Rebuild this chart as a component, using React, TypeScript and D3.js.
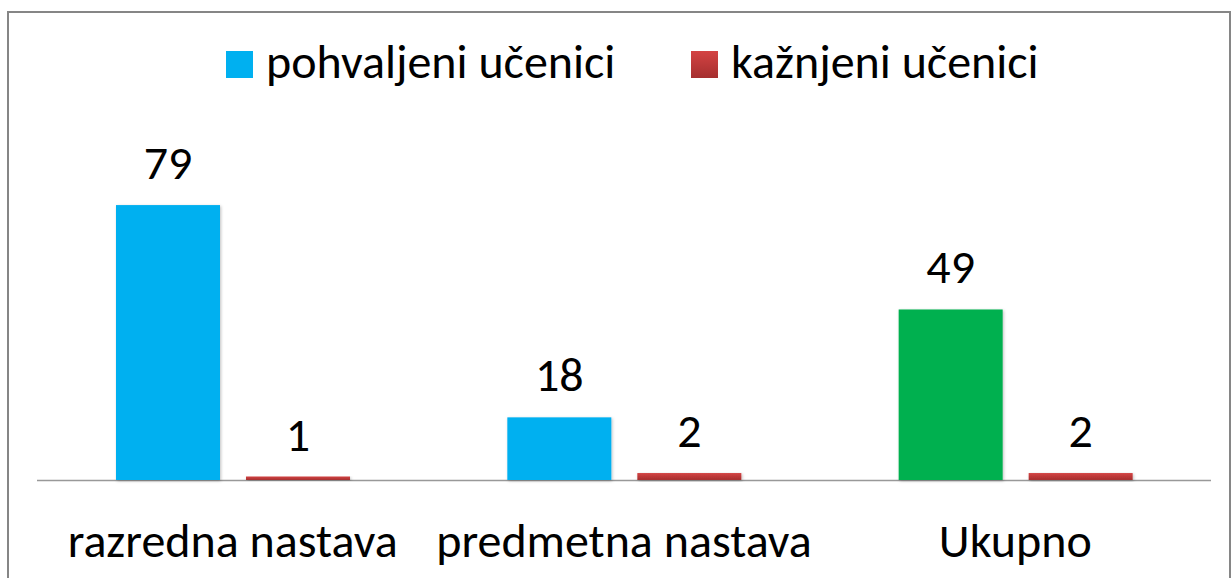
import React, { useEffect, useRef } from 'react'
import * as d3 from 'd3'

const categories = ['razredna nastava', 'predmetna nastava', 'Ukupno']
const seriesNames = ['pohvaljeni učenici', 'kažnjeni učenici']
const pohvaljeni = [79, 18, 49]
const kaznjeni = [1, 2, 2]
const blueColors = ['#00B0F0', '#00B0F0', '#00B050']

export default function App() {
  const svgRef = useRef<SVGSVGElement | null>(null)

  useEffect(() => {
    const svg = d3.select(svgRef.current)
    svg.selectAll('*').remove()

    const width = 1232
    const height = 578
    const font = "Carlito, Calibri, 'Open Sans', sans-serif"
    const fontSize = '48px'

    const defs = svg.append('defs')
    const grad = defs
      .append('linearGradient')
      .attr('id', 'redGrad')
      .attr('x1', 0)
      .attr('y1', 0)
      .attr('x2', 0)
      .attr('y2', 1)
    grad.append('stop').attr('offset', '0%').attr('stop-color', '#D44343')
    grad.append('stop').attr('offset', '100%').attr('stop-color', '#A52F2F')

    const shadow = defs.append('filter').attr('id', 'shadow').attr('x', '-10%').attr('y', '-10%').attr('width', '130%').attr('height', '130%')
    shadow
      .append('feDropShadow')
      .attr('dx', 1)
      .attr('dy', 1)
      .attr('stdDeviation', 1.5)
      .attr('flood-color', '#000')
      .attr('flood-opacity', 0.25)

    svg.append('rect').attr('width', width).attr('height', height).attr('fill', '#fff')

    // chart border
    svg
      .append('rect')
      .attr('x', 8)
      .attr('y', 12)
      .attr('width', 1222)
      .attr('height', 620)
      .attr('fill', 'none')
      .attr('stroke', '#868686')
      .attr('stroke-width', 2)

    const x0 = d3.scaleBand().domain(categories).range([37, 1211]).padding(0)
    const x1 = d3
      .scaleBand()
      .domain(seriesNames)
      .range([79, 313])
      .paddingInner(0.2)
      .paddingOuter(0)
    const y = d3.scaleLinear().domain([0, 100]).range([480, 132])

    const rows = categories.map((c, i) => ({
      cat: c,
      vals: [
        { s: seriesNames[0], v: pohvaljeni[i], fill: blueColors[i] },
        { s: seriesNames[1], v: kaznjeni[i], fill: 'url(#redGrad)' },
      ],
    }))

    // baseline
    svg
      .append('line')
      .attr('x1', x0.range()[0])
      .attr('x2', x0.range()[1])
      .attr('y1', y(0) + 0.5)
      .attr('y2', y(0) + 0.5)
      .attr('stroke', '#999')
      .attr('stroke-width', 1.5)

    const groups = svg
      .selectAll('.cat')
      .data(rows)
      .enter()
      .append('g')
      .attr('class', 'cat')
      .attr('transform', (d) => `translate(${x0(d.cat)},0)`)

    groups
      .selectAll('rect')
      .data((d) => d.vals)
      .enter()
      .append('rect')
      .attr('x', (d) => x1(d.s)!)
      .attr('y', (d) => y(d.v))
      .attr('width', x1.bandwidth())
      .attr('height', (d) => y(0) - y(d.v))
      .attr('fill', (d) => d.fill)
      .attr('filter', 'url(#shadow)')

    groups
      .selectAll('text.val')
      .data((d) => d.vals)
      .enter()
      .append('text')
      .attr('class', 'val')
      .attr('x', (d) => x1(d.s)! + x1.bandwidth() / 2)
      .attr('y', (d) => y(d.v) - 26)
      .attr('text-anchor', 'middle')
      .style('font-family', font)
      .style('font-size', fontSize)
      .attr('fill', '#000')
      .text((d) => d.v)

    // category labels
    svg
      .selectAll('.catlabel')
      .data(categories)
      .enter()
      .append('text')
      .attr('class', 'catlabel')
      .attr('x', (d) => x0(d)! + x0.bandwidth() / 2)
      .attr('y', 557)
      .attr('text-anchor', 'middle')
      .style('font-family', font)
      .style('font-size', fontSize)
      .attr('fill', '#000')
      .text((d) => d)

    // legend
    const legendX = [226, 691]
    const legendFill = ['#00B0F0', 'url(#redGrad)']
    const legend = svg
      .selectAll('.legend')
      .data(seriesNames)
      .enter()
      .append('g')
      .attr('class', 'legend')
      .attr('transform', (d, i) => `translate(${legendX[i]},51)`)
    legend
      .append('rect')
      .attr('width', 27)
      .attr('height', 27)
      .attr('fill', (d, i) => legendFill[i])
    legend
      .append('text')
      .attr('x', 40)
      .attr('y', 27)
      .style('font-family', font)
      .style('font-size', fontSize)
      .attr('fill', '#000')
      .text((d) => d)
  }, [])

  return (
    <svg
      ref={svgRef}
      width={1232}
      height={578}
      style={{ position: 'absolute', left: 0, top: 0, display: 'block' }}
    ></svg>
  )
}
